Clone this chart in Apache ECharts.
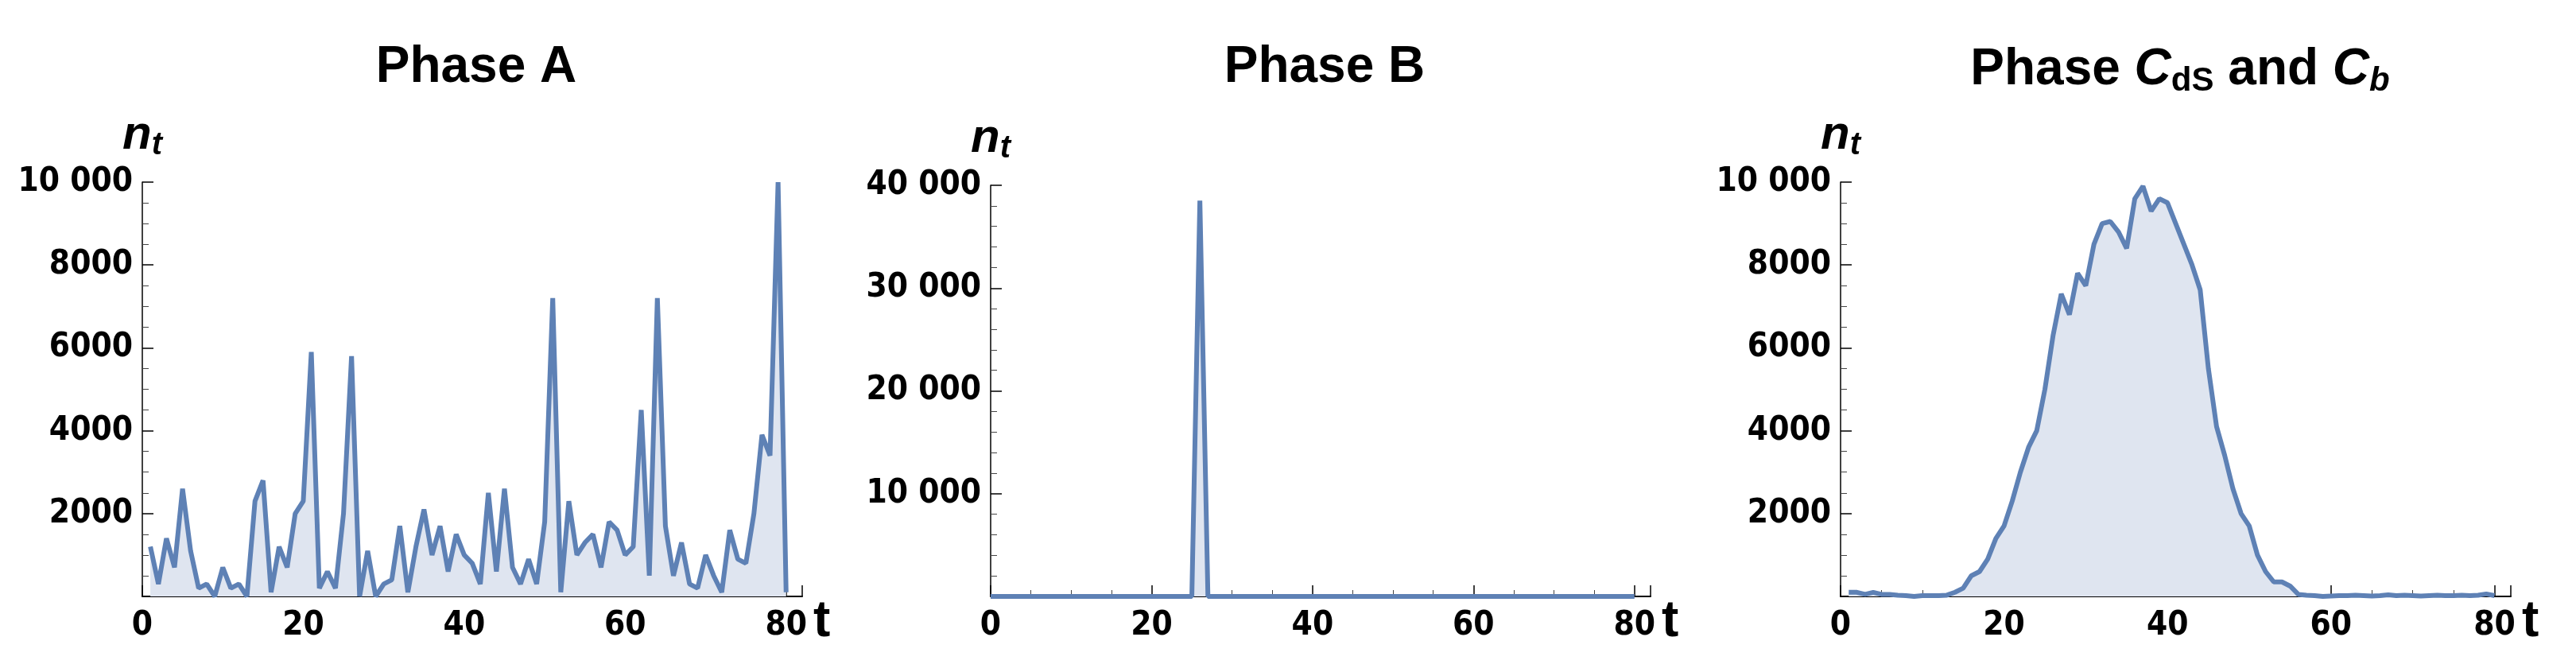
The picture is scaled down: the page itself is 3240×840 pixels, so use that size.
<!DOCTYPE html>
<html lang="en">
<head>
    <meta charset="UTF-8">
    <title>Phases</title>
    <script src="https://cdn.jsdelivr.net/npm/echarts@6/dist/echarts.min.js"></script>
    <style>
        body { margin: 0; background: #fff; }
        #chart { width: 3240px; height: 840px; }
    </style>
</head>
<body>
<div id="chart"></div>
<script>
    // phase A, t = 1..80
    const phaseA = [1200, 300, 1400, 700, 2600, 1100, 200, 300, 0, 700, 200, 300, 0, 2300, 2800, 100, 1200, 700, 2000, 2300,
        5900, 200, 600, 200, 2000, 5800, 0, 1100, 0, 300, 400, 1700, 100, 1200, 2100, 1000, 1700, 600, 1500, 1000,
        800, 300, 2500, 600, 2600, 700, 300, 900, 300, 1800, 7200, 100, 2300, 1000, 1300, 1500, 700, 1800, 1600, 1000,
        1200, 4500, 500, 7200, 1700, 500, 1300, 300, 200, 1000, 500, 100, 1600, 900, 800, 2000, 3900, 3400, 10000, 100];
    // phase B: a single burst at t = 26
    const phaseBPeakT = 26;
    const phaseBPeak = 38500;
    // phase C, t = 1..80
    const phaseC = [100, 100, 50, 100, 50, 50, 30, 20, 0, 20, 20, 20, 30, 100, 200, 500, 600, 900, 1400, 1700,
        2300, 3000, 3600, 4000, 5000, 6300, 7300, 6800, 7800, 7500, 8500, 9000, 9050, 8800, 8400, 9600, 9900, 9300, 9600, 9500,
        9000, 8500, 8000, 7400, 5500, 4100, 3400, 2600, 2000, 1700, 1000, 600, 350, 350, 250, 50, 30, 20, 0, 10,
        20, 20, 30, 20, 10, 20, 40, 20, 30, 20, 10, 20, 30, 20, 20, 30, 20, 30, 60, 20];
    const titles = ['Phase A', 'Phase B', 'Phase C'];

    let dataA = phaseA.map((v, i) => [i + 1, v]);
    let dataB = [];
    for (let t = 0; t <= 80; t++) dataB.push([t, t === phaseBPeakT ? phaseBPeak : 0]);
    let dataC = phaseC.map((v, i) => [i + 1, v]);

    const lineColor = '#5e81b5';
    const font = 'DejaVu Sans Condensed';
    const titleFont = 'Liberation Sans';
    function fmt(v) {
        return v >= 10000 ? String(v).replace(/(\d+)(\d{3})$/, '$1 $2') : String(v);
    }
    const grids = [
        {left: 179, top: 229, width: 830, height: 521},
        {left: 1246, top: 233, width: 830, height: 517},
        {left: 2315, top: 229, width: 843, height: 521}
    ];
    const yMax = [10000, 40000, 10000];
    const yInt = [2000, 10000, 2000];
    const yMinor = [4, 5, 4];

    let xAxis = [], yAxis = [], series = [], title = [];
    for (let i = 0; i < 3; i++) {
        xAxis.push({
            type: 'value', gridIndex: i, min: 0, max: 82, interval: 20,
            name: 't', nameLocation: 'end', nameGap: 14,
            nameTextStyle: {fontSize: 64, fontWeight: 'bold', fontFamily: titleFont, color: '#000', verticalAlign: 'top'},
            axisLine: {lineStyle: {color: '#000', width: 2}},
            axisTick: {inside: true, length: 14, lineStyle: {color: '#000', width: 1.5}},
            minorTick: {show: true, splitNumber: 4, length: 8, lineStyle: {color: '#444'}},
            axisLabel: {fontSize: 42, fontWeight: 'bold', fontFamily: font, color: '#000', margin: 16, showMaxLabel: false},
            splitLine: {show: false}
        });
        yAxis.push({
            type: 'value', gridIndex: i, min: 0, max: yMax[i], interval: yInt[i],
            name: '{n|n}{s|t}', nameLocation: 'end', nameGap: 26,
            nameTextStyle: {
                rich: {
                    n: {fontSize: 60, fontWeight: 'bold', fontStyle: 'italic', fontFamily: titleFont, color: '#000'},
                    s: {fontSize: 40, fontWeight: 'bold', fontStyle: 'italic', fontFamily: titleFont, color: '#000', padding: [26, 0, 0, 0]}
                }
            },
            axisLine: {show: true, lineStyle: {color: '#000', width: 1.5}},
            axisTick: {inside: true, length: 14, lineStyle: {color: '#000', width: 1.5}},
            minorTick: {show: true, splitNumber: yMinor[i], length: 8, lineStyle: {color: '#444'}},
            axisLabel: {
                fontSize: 42, fontWeight: 'bold', fontFamily: font, color: '#000', margin: 12,
                formatter: v => v === 0 ? '' : fmt(v)
            },
            splitLine: {show: false}
        });
    }
    [dataA, dataB, dataC].forEach((d, i) => {
        series.push({
            type: 'line', xAxisIndex: i, yAxisIndex: i, data: d, symbol: 'none',
            lineStyle: {color: lineColor, width: 6},
            areaStyle: {color: '#dfe5f0', opacity: 1}
        });
    });
    const centers = [grids[0].left + 415, grids[1].left + 415, grids[2].left + 422];
    const tStyle = {fontSize: 64, fontWeight: 'bold', fontFamily: titleFont, color: '#000'};
    title.push({text: titles[0], left: centers[0], top: 48, textAlign: 'center', textStyle: tStyle});
    title.push({text: titles[1], left: centers[1], top: 48, textAlign: 'center', textStyle: tStyle});
    title.push({
        text: '{a|Phase }{i|C}{s|dS}{a| and }{i|C}{si|b}', left: centers[2], top: 48, textAlign: 'center',
        textStyle: {
            rich: {
                a: tStyle,
                i: Object.assign({}, tStyle, {fontStyle: 'italic'}),
                s: {fontSize: 42, fontWeight: 'bold', fontFamily: titleFont, color: '#000', padding: [28, 0, 0, 0]},
                si: {fontSize: 42, fontWeight: 'bold', fontStyle: 'italic', fontFamily: titleFont, color: '#000', padding: [28, 0, 0, 0]}
            }
        }
    });

    let myChart = echarts.init(document.getElementById('chart'));
    myChart.setOption({animation: false, title: title, grid: grids, xAxis: xAxis, yAxis: yAxis, series: series});
</script>
</body>
</html>
